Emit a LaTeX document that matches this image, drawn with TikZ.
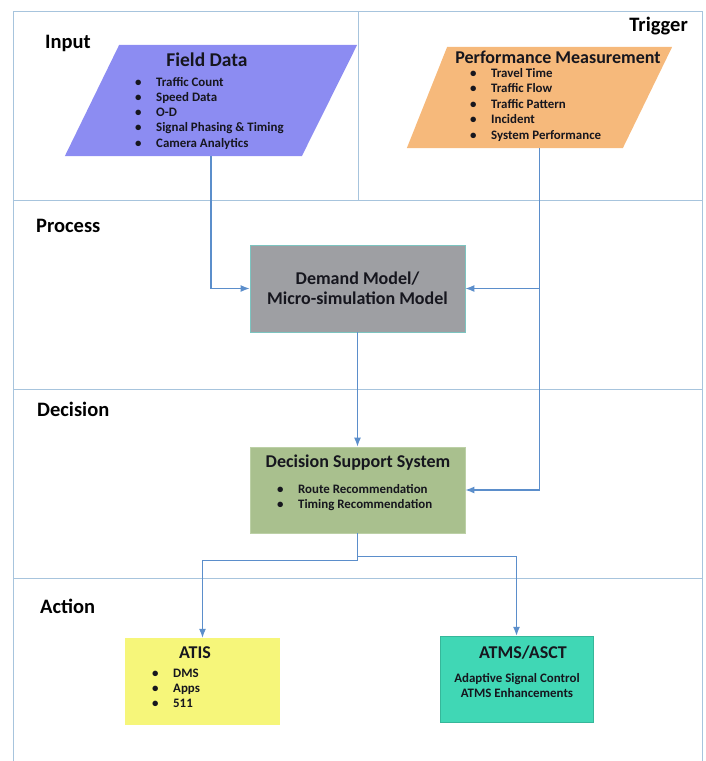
\documentclass[tikz,border=0pt]{standalone}
\usepackage{fontspec}
\setmainfont{Carlito}
\usetikzlibrary{arrows.meta}

\definecolor{lanecol}{HTML}{A7C4DD}
\definecolor{flowcol}{HTML}{5B8ECB}
\definecolor{fieldcol}{HTML}{8C8CF2}
\definecolor{perfcol}{HTML}{F6B97B}
\definecolor{proccol}{HTML}{9E9FA3}
\definecolor{proctrim}{HTML}{7CC4C0}
\definecolor{dsscol}{HTML}{A9C08E}
\definecolor{dsstrim}{HTML}{BCD0A6}
\definecolor{atiscol}{HTML}{F6F67A}
\definecolor{atmscol}{HTML}{40D7B5}
\definecolor{inkcol}{HTML}{16161E}

\newcommand{\blt}[1]{\makebox[21pt][l]{\textbullet}#1}

\tikzset{
	lane/.style={draw=lanecol, line width=0.9pt},
	flow/.style={draw=flowcol, line width=1.2pt, ->, >={Latex[length=9pt, width=7pt]}},
	area/.style={shape=rectangle, inner sep=0pt},
	box/.style={shape=rectangle, inner sep=0pt, text=inkcol},
	lbl/.style={anchor=base west, inner sep=0pt, text=black, font=\fontsize{20.5}{24}\selectfont\bfseries},
	head/.style={anchor=base, inner sep=0pt, text=inkcol, font=\fontsize{18}{21}\selectfont\bfseries},
	list/.style={anchor=north west, inner sep=0pt, text=inkcol, font=\fontsize{12.9}{#1}\selectfont\bfseries}
}

\begin{document}
\begin{tikzpicture}[x=1pt, y=-1pt]

	\useasboundingbox (0, 0) rectangle (706, 761);

	% lanes
	\draw[lane] (13, 761) -- (13, 11) -- (702, 11) -- (702, 761);
	\draw[lane] (358, 11) -- (358, 200);
	\draw[lane] (13, 200) -- (702, 200);
	\draw[lane] (13, 389) -- (702, 389);
	\draw[lane] (13, 578) -- (702, 578);

	\node[lbl] (lblinput) at (45, 48) {Input};
	\node[lbl, anchor=base east] (lbltrigger) at (688, 31) {Trigger};
	\node[lbl] (lblprocess) at (36, 232) {Process};
	\node[lbl] (lbldecision) at (37, 416) {Decision};
	\node[lbl] (lblaction) at (40, 613) {Action};

	% --- input / trigger ---
	\node[area, minimum width=292, minimum height=111] (field) at (211, 100.5) {};
	\fill[fieldcol] (field.south west) -- ++(237, 0) -- (field.north east) -- ++(-238, 0) -- cycle;
	\node[head, font=\fontsize{19.5}{24}\selectfont\bfseries] (fieldhead) at (207, 66) {Field Data};
	\node[list=15.2] (fieldlist) at (135, 75.4) {\begin{tabular}{@{}l@{}}
		\blt{Traffic Count}\\
		\blt{Speed Data}\\
		\blt{O-D}\\
		\blt{Signal Phasing \& Timing}\\
		\blt{Camera Analytics}
	\end{tabular}};

	\node[area, minimum width=265, minimum height=101] (perf) at (539.5, 97.5) {};
	\fill[perfcol] (perf.south west) -- ++(216, 0) -- (perf.north east) -- ++(-225, 0) -- cycle;
	\node[head] (perfhead) at (558, 63.5) {Performance Measurement};
	\node[list=15.4] (perflist) at (470, 66.5) {\begin{tabular}{@{}l@{}}
		\blt{Travel Time}\\
		\blt{Traffic Flow}\\
		\blt{Traffic Pattern}\\
		\blt{Incident}\\
		\blt{System Performance}
	\end{tabular}};

	% --- process ---
	\node[box, fill=proccol, draw=proctrim, line width=0.8pt, minimum width=215, minimum height=87, align=center, font=\fontsize{18}{20}\selectfont\bfseries] (proc) at (357.5, 288.5) {Demand Model/\\Micro-simulation Model};

	% --- decision ---
	\node[box, fill=dsscol, draw=dsstrim, line width=0.8pt, minimum width=215, minimum height=86] (dss) at (357.5, 490) {};
	\node[head] (dsshead) at (358, 467) {Decision Support System};
	\node[list=15] (dsslist) at (277, 482.5) {\begin{tabular}{@{}l@{}}
		\blt{Route Recommendation}\\
		\blt{Timing Recommendation}
	\end{tabular}};

	% --- action ---
	\node[box, fill=atiscol, minimum width=155, minimum height=87] (atis) at (202.5, 681.5) {};
	\node[head] (atishead) at (195, 658) {ATIS};
	\node[list=15] (atislist) at (152, 666.5) {\begin{tabular}{@{}l@{}}
		\blt{DMS}\\
		\blt{Apps}\\
		\blt{511}
	\end{tabular}};

	\node[box, fill=atmscol, draw=atmscol!85!black, line width=0.5pt, minimum width=153, minimum height=86] (atms) at (516.5, 679) {};
	\node[head] (atmshead) at (523, 658) {ATMS/ASCT};
	\node[list=15, anchor=north] (atmslist) at (517, 671.5) {\begin{tabular}{@{}c@{}}
		Adaptive Signal Control\\
		ATMS Enhancements
	\end{tabular}};

	% connectors
	\draw[flow] (field.center |- field.south) |- (proc.west);
	\draw[flow] (perf.center |- perf.south) |- (proc.east);
	\draw[flow] (perf.center |- perf.south) |- (dss.east);
	\draw[flow] (proc) -- (dss);

	\draw[flow] (dss.south) -- ++(0, 27) -| (atis.north);
	\draw[flow] (dss.south) -- ++(0, 23) -| (atms.north);

\end{tikzpicture}
\end{document}
